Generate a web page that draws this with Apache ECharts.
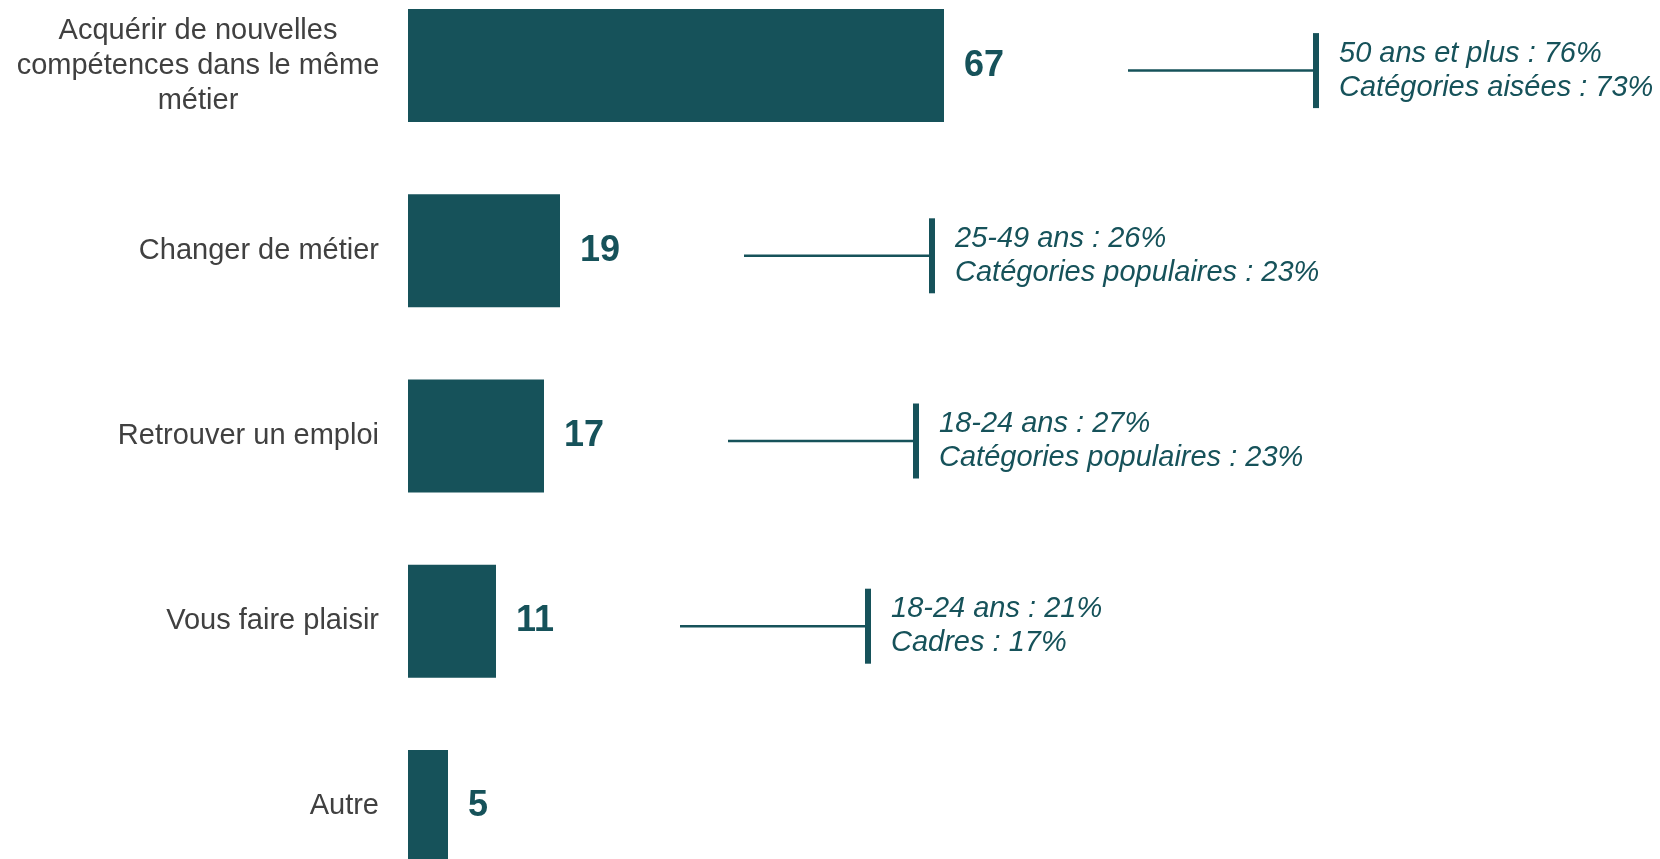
<!DOCTYPE html>
<html>
<head>
<meta charset="utf-8">
<script src="https://cdn.jsdelivr.net/npm/echarts@6/dist/echarts.min.js"></script>
<style>
  html, body { margin: 0; padding: 0; background: #fff; overflow: hidden; width: 1660px; height: 859px; }
  /* the last bar runs past the bottom edge in the original, so the chart is taller than the page */
  #chart { position: absolute; left: 0; top: -27px; width: 1660px; height: 926px; }
</style>
</head>
<body>
<div id="chart"></div>
<script>
// categories, top to bottom
const categories = ['Acquérir de nouvelles\ncompétences dans le même\nmétier', 'Changer de métier', 'Retrouver un emploi', 'Vous faire plaisir', 'Autre']
const values = [67, 19, 17, 11, 5]
// side notes (first 4 rows only)
const noteTop = ['50 ans et plus : 76%', '25-49 ans : 26%', '18-24 ans : 27%', '18-24 ans : 21%']
const noteBottom = ['Catégories aisées : 73%', 'Catégories populaires : 23%', 'Catégories populaires : 23%', 'Cadres : 17%']

const teal = '#16525a'
const font = "'Liberation Sans', Arial, sans-serif"

const noteData = noteTop.map((t, i) => [values[i], i])

const myChart = echarts.init(document.getElementById('chart'))
const option = {
  animation: false,
  grid: { left: 408, right: 452, top: 0, bottom: 0, containLabel: false },
  xAxis: {
    type: 'value', min: 0, max: 100,
    show: false
  },
  yAxis: {
    type: 'category',
    data: categories,
    inverse: true,
    axisLine: { show: false },
    axisTick: { show: false },
    axisLabel: {
      margin: 29,
      fontFamily: font,
      fontSize: 29,
      color: '#404040',
      lineHeight: 35,
      formatter: function (v) {
        if (v.indexOf('\n') < 0) return v
        return v.split('\n').map(l => '{c|' + l + '}').join('\n')
      },
      rich: {
        c: { width: 362, align: 'center', fontFamily: font, fontSize: 29, color: '#404040', lineHeight: 35 }
      }
    }
  },
  series: [{
    type: 'bar',
    data: values,
    barWidth: 113,
    itemStyle: { color: teal },
    label: {
      show: true,
      position: 'right',
      distance: 20,
      fontFamily: font,
      fontSize: 36,
      fontWeight: 'bold',
      color: teal
    }
  }, {
    type: 'custom',
    clip: false,
    data: noteData,
    encode: { x: 0, y: 1 },
    renderItem: function (params, api) {
      const i = params.dataIndex
      const v = api.value(0), cat = api.value(1)
      const p0 = api.coord([v + 23, cat])
      const p1 = api.coord([v + 46.5, cat])
      const y = p0[1] + 5
      return {
        type: 'group',
        children: [
          { type: 'line', shape: { x1: p0[0], y1: y, x2: p1[0], y2: y }, style: { stroke: teal, lineWidth: 2.5 } },
          { type: 'rect', shape: { x: p1[0] - 3, y: y - 37.5, width: 6, height: 75 }, style: { fill: teal } },
          {
            type: 'text',
            style: {
              x: p1[0] + 23, y: y,
              text: noteTop[i] + '\n' + noteBottom[i],
              fontFamily: font, fontSize: 29, fontStyle: 'italic',
              lineHeight: 34,
              verticalAlign: 'middle', align: 'left',
              fill: teal
            }
          }
        ]
      }
    }
  }]
}
myChart.setOption(option)
window.addEventListener('resize', () => { myChart.resize() })
</script>
</body>
</html>
